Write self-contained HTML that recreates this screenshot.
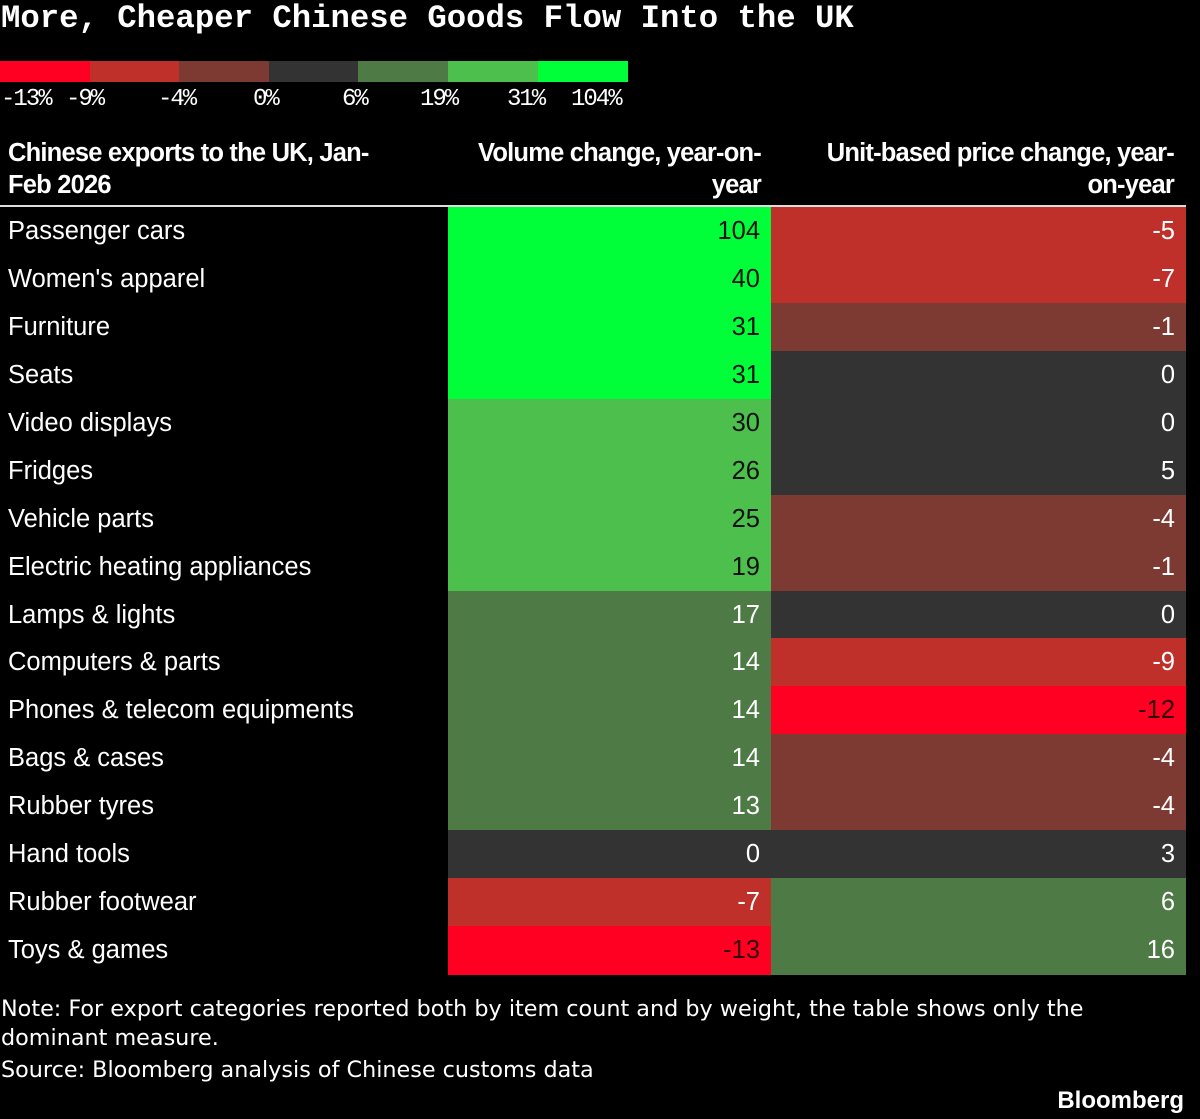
<!DOCTYPE html>
<html><head><meta charset="utf-8">
<style>
html,body{margin:0;padding:0;background:#000;}
body{width:1200px;height:1119px;position:relative;overflow:hidden;color:#fff;font-family:"Liberation Sans",sans-serif;}
.abs{position:absolute;white-space:nowrap;}
#title{left:1px;top:0px;font-family:"Liberation Mono",monospace;font-weight:bold;font-size:32.3px;letter-spacing:0px;}
.leg{top:61px;height:21px;width:90px;}
.legl{top:86px;font-family:"Liberation Mono",monospace;font-size:24px;letter-spacing:-2px;}
.hdr{font-weight:bold;font-size:25.5px;letter-spacing:-0.8px;line-height:32px;}
.cell{position:absolute;}
.lbl{font-size:25.5px;}
.val{font-size:25.5px;text-align:right;}
.note{font-family:"DejaVu Sans",sans-serif;font-size:22.3px;left:1px;}
</style></head>
<body>
<div class="abs" id="title">More, Cheaper Chinese Goods Flow Into the UK</div>
<div id="legend"></div>
<div class="abs hdr" style="left:8px;top:137px;">Chinese exports to the UK, Jan-<br>Feb 2026</div>
<div class="abs hdr" style="right:439px;top:137px;text-align:right;">Volume change, year-on-<br>year</div>
<div class="abs hdr" style="right:26px;top:137px;text-align:right;">Unit-based price change, year-<br>on-year</div>
<div class="abs" style="left:0;top:205px;width:1186px;height:2px;background:#ddd;"></div>
<div id="table"></div>
<div class="abs note" style="top:995px;line-height:29px;">Note: For export categories reported both by item count and by weight, the table shows only the<br>dominant measure.</div>
<div class="abs note" style="top:1057px;">Source: Bloomberg analysis of Chinese customs data</div>
<div class="abs" style="right:16px;top:1087px;font-weight:bold;font-size:24px;">Bloomberg</div>
<script>
const categories=["Passenger cars","Women's apparel","Furniture","Seats","Video displays","Fridges","Vehicle parts","Electric heating appliances","Lamps & lights","Computers & parts","Phones & telecom equipments","Bags & cases","Rubber tyres","Hand tools","Rubber footwear","Toys & games"];
const volumeChange=[104,40,31,31,30,26,25,19,17,14,14,14,13,0,-7,-13];
const priceChange=[-5,-7,-1,0,0,5,-4,-1,0,-9,-12,-4,-4,3,6,16];
const legendLabels=["-13%","-9%","-4%","0%","6%","19%","31%","104%"];
const thresholds=[-9,-4,0,6,19,31];
const palette=["#ff0022","#c0302a","#7d3a32","#333333","#4e7a46","#4cbf4c","#00ff38"];
const textColors=["#300","#fff","#fff","#fff","#fff","#111","#111"];
function bin(v){let i=0;while(i<thresholds.length&&v>=thresholds[i])i++;return i;}
const leg=document.getElementById('legend');
palette.forEach((c,i)=>{const d=document.createElement('div');d.className='abs leg';d.style.left=(i*89.6)+'px';d.style.background=c;


leg.appendChild(d);});
const lx=[1,66,158,253,342,420,507,571];
legendLabels.forEach((t,i)=>{const d=document.createElement('div');d.className='abs legl';d.style.left=lx[i]+'px';d.textContent=t;


leg.appendChild(d);});
const tb=document.getElementById('table');
const top0=207,rowH=47.94;
categories.forEach((c,i)=>{
 const y=top0+i*rowH;
 const l=document.createElement('div');l.className='cell lbl';l.style.cssText=`left:8px;top:${y+1}px;height:${rowH}px;line-height:${rowH}px;`;l.textContent=c;
 
 
 tb.appendChild(l);
 [[volumeChange[i],448,771],[priceChange[i],771,1186]].forEach(([v,x0,x1],k)=>{
  const b=bin(v);const d=document.createElement('div');d.className='cell val';
  d.style.cssText=`left:${x0}px;top:${y}px;width:${x1-x0-11}px;padding-right:11px;height:${rowH+0.5}px;line-height:${rowH+2}px;background:${palette[b]};color:${textColors[b]};`;
  d.textContent=v;
  
  
  tb.appendChild(d);
 });
});
</script>
</body></html>
